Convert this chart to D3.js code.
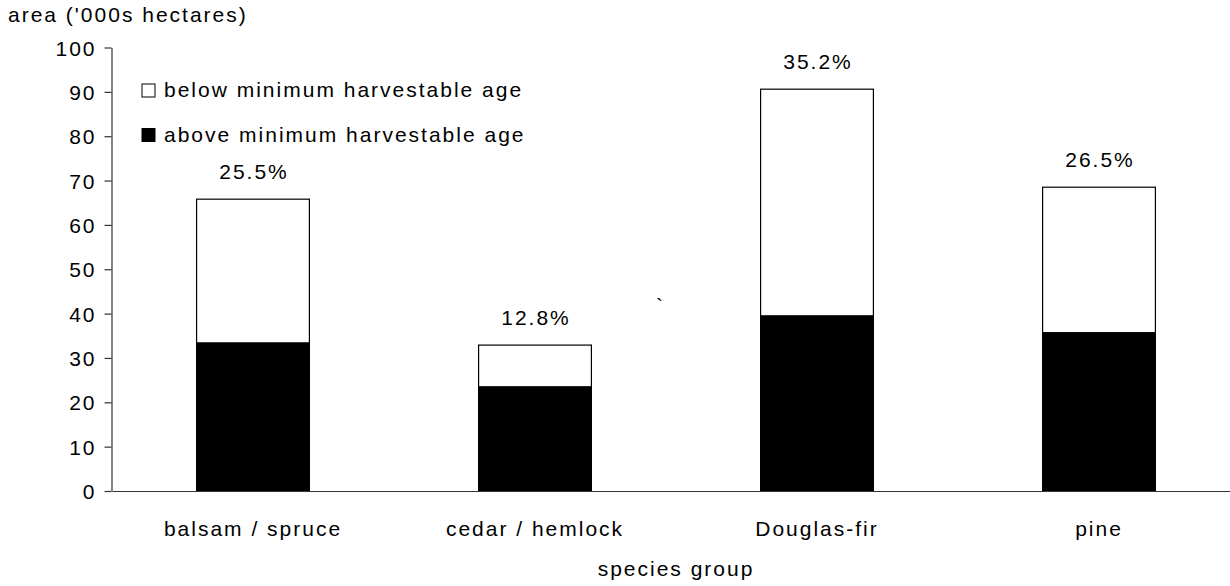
<!DOCTYPE html>
<html>
<head>
<meta charset="utf-8">
<script src="https://cdn.jsdelivr.net/npm/d3@7"></script>
<style>
  body { margin: 0; background: #fff; overflow: hidden; }
  svg text { font-family: Arial, "Liberation Sans", sans-serif; font-size: 21px; letter-spacing: 2px; fill: #000; }
</style>
</head>
<body>
<div id="chart"></div>
<script>
// Data
const categories = ["balsam / spruce", "cedar / hemlock", "Douglas-fir", "pine"];
const aboveAge = [33.4, 23.5, 39.5, 35.7];   // black segment
const belowAge = [32.4, 9.4, 51.1, 32.8];    // white segment on top
const shareLabels = ["25.5%", "12.8%", "35.2%", "26.5%"];
const yTicks = [0, 10, 20, 30, 40, 50, 60, 70, 80, 90, 100];
const seriesNames = ["below minimum harvestable age", "above minimum harvestable age"];

function drawChart() {
    var width = 1230,
        height = 586;

    var svg = d3.select("#chart").append("svg")
        .attr("width", width)
        .attr("height", height);

    var x = d3.scaleBand()
        .domain(categories)
        .range([112, 1240])
        .paddingInner(0.6)
        .paddingOuter(0.3);

    var y = d3.scaleLinear()
        .domain([0, 100])
        .range([491, 47.5]);

    var rows = categories.map(function(c, i) {
        return { cat: c, above: aboveAge[i], below: belowAge[i], label: shareLabels[i] };
    });

    var stack = d3.stack().keys(["above", "below"]);
    var layers = stack(rows);
    var fills = { above: "#000", below: "#fff" };

    // Bars
    svg.selectAll("g.layer")
        .data(layers)
        .enter().append("g")
        .attr("class", "layer")
        .attr("fill", function(d) { return fills[d.key]; })
        .selectAll("rect")
        .data(function(d) { return d; })
        .enter().append("rect")
        .attr("x", function(d) { return x(d.data.cat); })
        .attr("y", function(d) { return y(d[1]); })
        .attr("width", x.bandwidth())
        .attr("height", function(d) { return y(d[0]) - y(d[1]); })
        .attr("stroke", "#000")
        .attr("stroke-width", 1.2);

    // Share labels above bars
    svg.selectAll("text.share")
        .data(rows)
        .enter().append("text")
        .attr("class", "share")
        .attr("x", function(d) { return x(d.cat) + x.bandwidth() / 2 + 1; })
        .attr("y", function(d) { return y(d.above + d.below) - 20; })
        .attr("text-anchor", "middle")
        .text(function(d) { return d.label; });

    // Y axis
    var yAxis = svg.append("g")
        .attr("transform", "translate(111.5,0)")
        .call(d3.axisLeft(y).tickValues(yTicks).tickSize(7).tickSizeOuter(0).tickPadding(8));
    yAxis.select(".domain").attr("stroke", "#333").attr("stroke-width", 1.2);
    yAxis.selectAll(".tick line").attr("stroke", "#333").attr("stroke-width", 1.2);
    yAxis.selectAll(".tick text")
        .attr("font-size", null)
        .attr("font-family", null)
        .attr("dy", "0.36em");

    // X axis
    var xAxis = svg.append("g")
        .attr("transform", "translate(0," + y(0) + ")")
        .call(d3.axisBottom(x).tickSize(0).tickSizeOuter(0).tickPadding(30));
    xAxis.select(".domain").attr("stroke", "#333").attr("stroke-width", 1.2);
    xAxis.selectAll(".tick text")
        .attr("font-size", null)
        .attr("font-family", null)
        .attr("dy", "0.71em");

    // Axis titles
    svg.append("text")
        .attr("x", 8)
        .attr("y", 22)
        .text("area ('000s hectares)");

    svg.append("text")
        .attr("x", (x.range()[0] + x.range()[1]) / 2)
        .attr("y", 576)
        .attr("text-anchor", "middle")
        .text("species group");

    // stray mark in the original
    svg.append("text")
        .attr("x", 656)
        .attr("y", 313)
        .text("`");

    // Legend
    var legend = svg.selectAll("g.legend")
        .data(seriesNames)
        .enter().append("g")
        .attr("class", "legend")
        .attr("transform", function(d, i) { return "translate(142," + (84 + i * 44.5) + ")"; });

    legend.append("rect")
        .attr("width", 13)
        .attr("height", 13)
        .attr("fill", function(d, i) { return i === 0 ? "#fff" : "#000"; })
        .attr("stroke", "#000")
        .attr("stroke-width", 1);

    legend.append("text")
        .attr("x", 22)
        .attr("y", 13)
        .text(function(d) { return d; });
}

drawChart();
</script>
</body>
</html>
